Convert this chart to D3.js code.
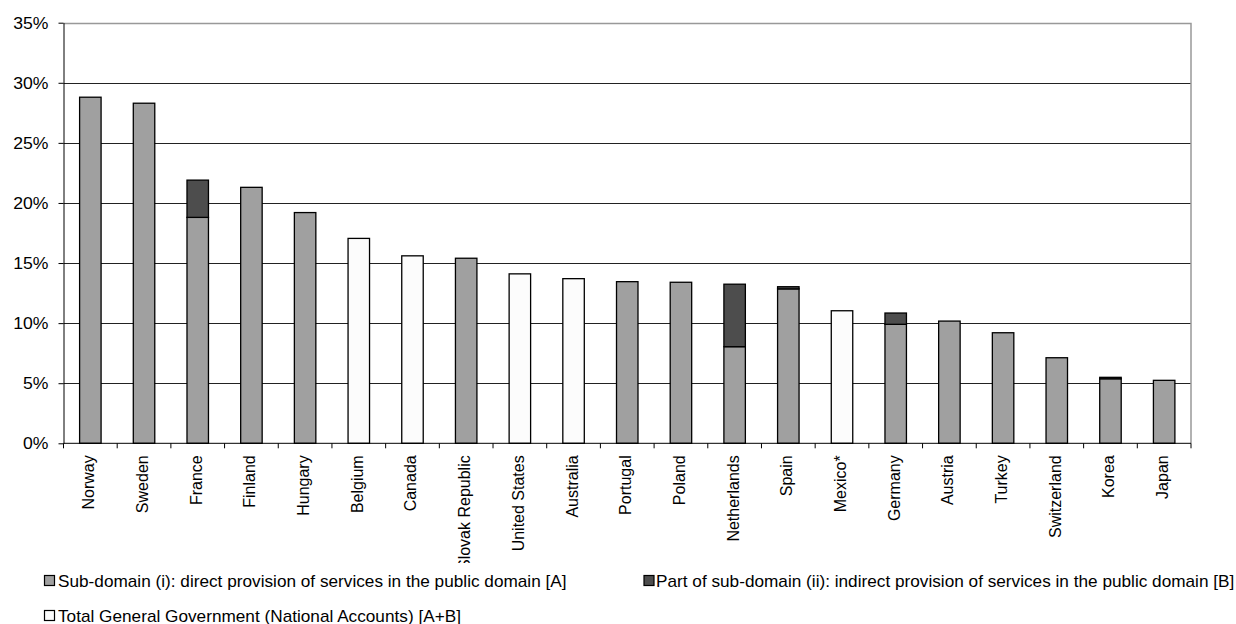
<!DOCTYPE html>
<html><head><meta charset="utf-8">
<script src="https://cdn.jsdelivr.net/npm/d3@7/dist/d3.min.js"></script>
<style>body{margin:0;background:#fff;font-family:"Liberation Sans",Arial,sans-serif;}</style>
</head><body><svg id="c" width="1236" height="624"></svg>
<script>
const categories = ["Norway","Sweden","France","Finland","Hungary","Belgium","Canada","Slovak Republic","United States","Australia","Portugal","Poland","Netherlands","Spain","Mexico*","Germany","Austria","Turkey","Switzerland","Korea","Japan"];
// Sub-domain (i): direct provision [A]
const directA = [28.8,28.3,18.8,21.3,19.2,null,null,15.4,null,null,13.45,13.4,8.04,12.85,null,9.9,10.17,9.2,7.12,5.37,5.24];
// Part of sub-domain (ii): indirect provision [B]
const indirectB = [0,0,3.1,0,0,null,null,0,null,null,0,0,5.2,0.18,null,0.94,0,0,0,0.12,0];
// Total General Government (National Accounts) [A+B]
const totalGG = [null,null,null,null,null,17.05,15.6,null,14.1,13.7,null,null,null,null,11.03,null,null,null,null,null,null];
const yTicks = [0,5,10,15,20,25,30,35];
const legendLabels = ["Sub-domain (i): direct provision of services in the public domain [A]","Part of sub-domain (ii): indirect provision of services in the public domain [B]","Total General Government (National Accounts) [A+B]"];
const colors = {A:"#a0a0a0", B:"#4d4d4d", T:"#fcfcfc"};

const svg = d3.select("#c");
const L=63.5, R=1191, T=22.7, B=443.3;
const x = d3.scaleBand().domain(categories).range([L,R]).paddingInner(0.6).paddingOuter(0.3);
const xb = d3.scaleBand().domain(categories).range([L,R]);
const y = d3.scaleLinear().domain([0,35]).range([B,T]);

// gridlines
svg.append("g").selectAll("line").data(yTicks.filter(d=>d>0&&d<35)).join("line")
  .attr("x1",L).attr("x2",R).attr("y1",d=>Math.round(y(d))+0.5).attr("y2",d=>Math.round(y(d))+0.5)
  .attr("stroke","#222").attr("stroke-width",1);
// border top/right
svg.append("path").attr("d",`M${L},${Math.round(T)+0.5}H${R}V${B}`).attr("fill","none").attr("stroke","#999").attr("stroke-width",1.5);

// bars
const g = svg.append("g");
categories.forEach((c,i)=>{
  const bx = x(c), bw = x.bandwidth();
  if (totalGG[i]!=null){
    g.append("rect").attr("x",bx).attr("width",bw).attr("y",y(totalGG[i])).attr("height",y(0)-y(totalGG[i]))
      .attr("fill",colors.T).attr("stroke","#000").attr("stroke-width",1.3);
  } else {
    g.append("rect").attr("x",bx).attr("width",bw).attr("y",y(directA[i])).attr("height",y(0)-y(directA[i]))
      .attr("fill",colors.A).attr("stroke","#000").attr("stroke-width",1.3);
    if (indirectB[i]>0){
      const top = directA[i]+indirectB[i];
      g.append("rect").attr("x",bx).attr("width",bw).attr("y",y(top)).attr("height",y(directA[i])-y(top))
        .attr("fill",colors.B).attr("stroke","#000").attr("stroke-width",1.3);
    }
  }
});

// y axis
const ya = svg.append("g").attr("transform",`translate(${L},0)`)
  .call(d3.axisLeft(y).tickValues(yTicks).tickFormat(d=>d+"%").tickSize(5).tickSizeOuter(0));
ya.select(".domain").attr("stroke","#000");
ya.selectAll(".tick line").attr("stroke","#000");
ya.selectAll("text").attr("font-family","Liberation Sans, Arial, sans-serif").attr("font-size",16).attr("fill","#000")
  .attr("x",0).attr("dy","0.35em").attr("transform","translate(-15,0) scale(1.1,1)");

// x axis: tick marks at band boundaries
const xa = svg.append("g");
xa.append("line").attr("x1",L).attr("x2",R).attr("y1",B).attr("y2",B).attr("stroke","#000");
xa.selectAll(".tm").data(categories.concat(["__end"])).join("line").attr("class","tm")
  .attr("x1",(d,i)=>i<categories.length?xb(d):R).attr("x2",(d,i)=>i<categories.length?xb(d):R)
  .attr("y1",B).attr("y2",B+5).attr("stroke","#000");
svg.append("clipPath").attr("id","lc").append("rect").attr("x",0).attr("y",B).attr("width",1236).attr("height",563-B);
svg.append("g").attr("clip-path","url(#lc)").selectAll("text").data(categories).join("text")
  .attr("transform",d=>`translate(${xb(d)+xb.bandwidth()/2+4},${B+12}) rotate(-90)`)
  .attr("text-anchor","end").attr("font-size",16).attr("fill","#000").text(d=>d);

// legend
const leg = [{k:"A",x:44,y:581,tx:58,t:legendLabels[0]},{k:"B",x:643.5,y:581,tx:656,t:legendLabels[1]},{k:"T",x:44,y:616,tx:58,t:legendLabels[2]}];
leg.forEach(l=>{
  svg.append("rect").attr("x",l.x+0.5).attr("y",l.y-5.5).attr("width",10).attr("height",10)
    .attr("fill",colors[l.k]).attr("stroke","#000").attr("stroke-width",1.2);
  svg.append("text").attr("transform",`translate(${l.tx},${l.y+5.5}) scale(1.075,1)`)
    .attr("font-size",16).attr("fill","#000").text(l.t);
});
</script></body></html>
